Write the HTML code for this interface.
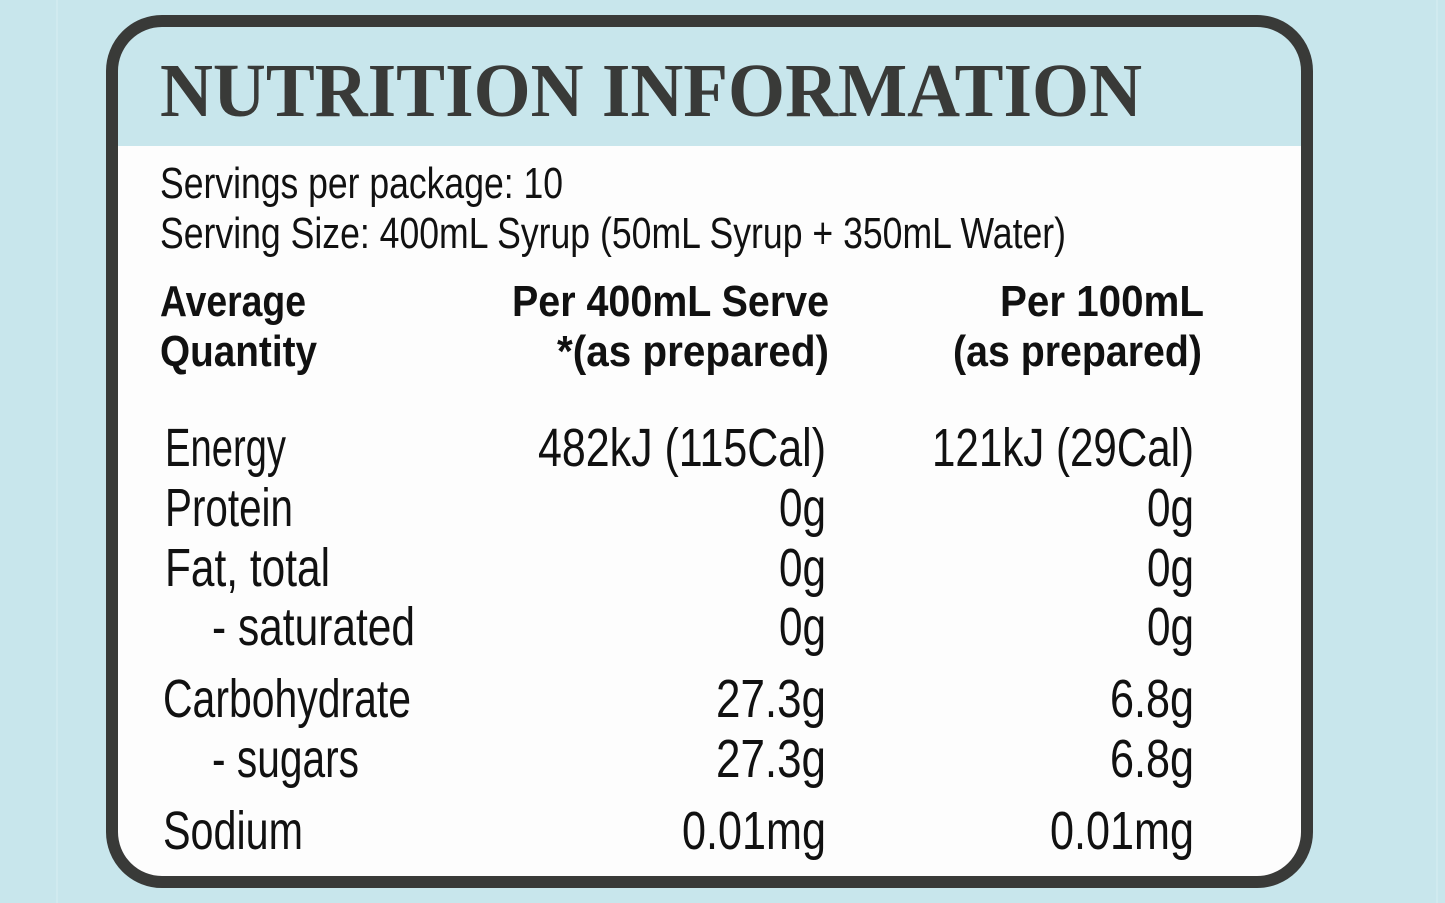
<!DOCTYPE html>
<html><head><style>html,body{margin:0;padding:0;background:#c8e6ec;}svg{display:block}</style></head>
<body>
<svg width="1445" height="903" viewBox="0 0 1445 903" xmlns="http://www.w3.org/2000/svg">
<rect width="1445" height="903" fill="#c8e6ec"/>
<line x1="57" y1="0" x2="57" y2="903" stroke="#d8eef2" stroke-width="1"/>
<line x1="1437" y1="0" x2="1437" y2="903" stroke="#d8eef2" stroke-width="1"/>
<clipPath id="c"><rect x="112" y="21" width="1195" height="861" rx="50"/></clipPath>
<rect x="112" y="21" width="1195" height="861" rx="50" fill="#fdfdfd"/>
<rect x="100" y="10" width="1220" height="136" fill="#c8e6ec" clip-path="url(#c)"/>
<rect x="112" y="21" width="1195" height="861" rx="50" fill="none" stroke="#393a38" stroke-width="12"/>
<g fill="#2a2b2a" font-family="Liberation Sans, sans-serif">
<text x="160" y="116" font-family="Liberation Serif, serif" font-weight="bold" font-size="76" textLength="982" lengthAdjust="spacingAndGlyphs" fill="#393a38">NUTRITION INFORMATION</text>
<g font-size="44" fill="#111">
<text x="160" y="198" textLength="403" lengthAdjust="spacingAndGlyphs">Servings per package: 10</text>
<text x="160" y="248" textLength="906" lengthAdjust="spacingAndGlyphs">Serving Size: 400mL Syrup (50mL Syrup + 350mL Water)</text>
</g>
<g font-size="44" font-weight="bold" fill="#111">
<text x="160" y="316" textLength="146" lengthAdjust="spacingAndGlyphs">Average</text>
<text x="160" y="366" textLength="157" lengthAdjust="spacingAndGlyphs">Quantity</text>
<text x="512" y="316" textLength="317" lengthAdjust="spacingAndGlyphs">Per 400mL Serve</text>
<text x="557" y="366" textLength="272" lengthAdjust="spacingAndGlyphs">*(as prepared)</text>
<text x="1000" y="316" textLength="204" lengthAdjust="spacingAndGlyphs">Per 100mL</text>
<text x="953" y="366" textLength="249" lengthAdjust="spacingAndGlyphs">(as prepared)</text>
</g>
<g font-size="54" fill="#111">
<text x="165" y="466" textLength="121" lengthAdjust="spacingAndGlyphs">Energy</text>
<text x="538" y="466" textLength="288" lengthAdjust="spacingAndGlyphs">482kJ (115Cal)</text>
<text x="932" y="466" textLength="262" lengthAdjust="spacingAndGlyphs">121kJ (29Cal)</text>
<text x="165" y="526" textLength="128" lengthAdjust="spacingAndGlyphs">Protein</text>
<text x="779" y="526" textLength="47" lengthAdjust="spacingAndGlyphs">0g</text>
<text x="1147" y="526" textLength="47" lengthAdjust="spacingAndGlyphs">0g</text>
<text x="165" y="586" textLength="165" lengthAdjust="spacingAndGlyphs">Fat, total</text>
<text x="779" y="586" textLength="47" lengthAdjust="spacingAndGlyphs">0g</text>
<text x="1147" y="586" textLength="47" lengthAdjust="spacingAndGlyphs">0g</text>
<text x="212" y="645" textLength="203" lengthAdjust="spacingAndGlyphs">- saturated</text>
<text x="779" y="645" textLength="47" lengthAdjust="spacingAndGlyphs">0g</text>
<text x="1147" y="645" textLength="47" lengthAdjust="spacingAndGlyphs">0g</text>
<text x="163" y="717" textLength="248" lengthAdjust="spacingAndGlyphs">Carbohydrate</text>
<text x="716" y="717" textLength="110" lengthAdjust="spacingAndGlyphs">27.3g</text>
<text x="1110" y="717" textLength="84" lengthAdjust="spacingAndGlyphs">6.8g</text>
<text x="212" y="777" textLength="147" lengthAdjust="spacingAndGlyphs">- sugars</text>
<text x="716" y="777" textLength="110" lengthAdjust="spacingAndGlyphs">27.3g</text>
<text x="1110" y="777" textLength="84" lengthAdjust="spacingAndGlyphs">6.8g</text>
<text x="163" y="849" textLength="140" lengthAdjust="spacingAndGlyphs">Sodium</text>
<text x="682" y="849" textLength="144" lengthAdjust="spacingAndGlyphs">0.01mg</text>
<text x="1050" y="849" textLength="144" lengthAdjust="spacingAndGlyphs">0.01mg</text>
</g>
</g>
</svg>
</body></html>
